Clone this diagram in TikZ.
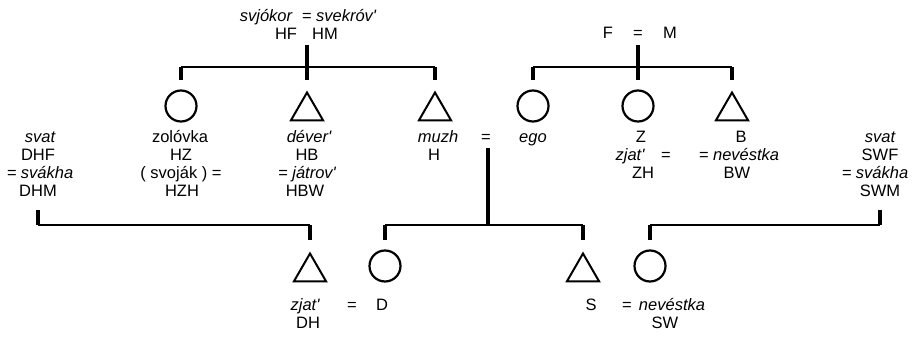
\documentclass[tikz,border=0pt]{standalone}
\usepackage{fontspec}
\setmainfont{Liberation Sans}
\usetikzlibrary{shapes.geometric}
\tikzset{
  lbl/.style={inner sep=0pt, outer sep=0pt, anchor=base, font=\fontsize{16.5}{18}\selectfont},
  ilbl/.style={lbl, font=\fontsize{16.5}{18}\selectfont\itshape},
  circ/.style={circle, draw, line width=2.2pt, minimum size=31pt, inner sep=0pt},
  tri/.style={regular polygon, regular polygon sides=3, draw, line width=2pt, minimum size=37pt, inner sep=0pt},
  kin/.style={line width=1.6pt},
  tick/.style={line width=3.2pt},
}
\newcommand{\q}{\textquotesingle}
\begin{document}
\begin{tikzpicture}[x=1pt, y=-1pt]
\path[use as bounding box, fill=white] (0,0) rectangle (915,337);

% ---- shapes
\node[circ] (zol) at (181,106) {};
\node[tri]  (dev) at (307,111) {};
\node[tri]  (muzh) at (435,111) {};
\node[circ] (ego) at (533,106) {};
\node[circ] (z) at (638,106) {};
\node[tri]  (b) at (732,111) {};
\node[tri]  (dh) at (310,272) {};
\node[circ] (d) at (385,266) {};
\node[tri]  (s) at (583,272) {};
\node[circ] (sw) at (650,266) {};

% ---- family connectors (upper left)
\coordinate (hfm) at (307,45);
\coordinate (hfmL) at (181,67);
\coordinate (hfmR) at (435,67);
\draw[kin] (hfmL) -- (hfmR);
\draw[tick] (hfm) -- (307,80);
\draw[tick] (hfmL) -- (181,80);
\draw[tick] (hfmR) -- (435,80);

% upper right
\coordinate (fm) at (638,45);
\coordinate (fmL) at (533,67);
\coordinate (fmR) at (732,67);
\draw[kin] (fmL) -- (fmR);
\draw[tick] (fm) -- (638,80);
\draw[tick] (fmL) -- (533,80);
\draw[tick] (fmR) -- (732,80);

% middle
\coordinate (hego) at (488,148);
\coordinate (chL) at (385,225);
\coordinate (chR) at (583,225);
\draw[kin] (chL) -- (chR);
\draw[tick] (hego) -- (488,225);
\draw[tick] (chL) -- (385,240);
\draw[tick] (chR) -- (583,240);

% left lower
\coordinate (llL) at (38,225);
\coordinate (llR) at (310,225);
\draw[kin] (llL) -- (llR);
\draw[tick] (38,210) -- (llL);
\draw[tick] (llR) -- (310,240);

% right lower
\coordinate (rlL) at (650,225);
\coordinate (rlR) at (880,225);
\draw[kin] (rlL) -- (rlR);
\draw[tick] (rlL) -- (650,240);
\draw[tick] (880,210) -- (rlR);

% ---- labels top
\node[ilbl] (t1) at (266,22) {svjókor};
\node[ilbl] (t2) at (339,22) {= svekróv\q};
\node[lbl] (hf) at (286,40) {HF};
\node[lbl] (hm) at (325,40) {HM};
\node[lbl] (f) at (608,38) {F};
\node[lbl] (fmeq) at (638,38) {=};
\node[lbl] (mm) at (670,38) {M};

% row 1
\node[ilbl] (a1) at (40,142) {svat};
\node[lbl]  (a2) at (180,142) {zolóvka};
\node[ilbl] (a3) at (309,142) {déver\q};
\node[ilbl] (a4) at (438,142) {muzh};
\node[lbl]  (a5) at (486,142) {=};
\node[ilbl] (a6) at (533,142) {ego};
\node[lbl]  (a7) at (641,142) {Z};
\node[lbl]  (a8) at (741,142) {B};
\node[ilbl] (a9) at (880,142) {svat};

% row 2
\node[lbl]  (b1) at (38,160) {DHF};
\node[lbl]  (b2) at (181,160) {HZ};
\node[lbl]  (b3) at (307,160) {HB};
\node[lbl]  (b4) at (434,160) {H};
\node[ilbl] (b5) at (630,160) {zjat\q};
\node[lbl]  (b6) at (666,160) {=};
\node[ilbl] (b7) at (739,160) {= nevéstka};
\node[lbl]  (b8) at (880,160) {SWF};

% row 3
\node[ilbl] (c1) at (40,178) {= svákha};
\node[lbl]  (c2) at (181,178) {( svoják ) =};
\node[ilbl] (c3) at (307,178) {= játrov\q};
\node[lbl]  (c4) at (643,178) {ZH};
\node[lbl]  (c5) at (737,178) {BW};
\node[ilbl] (c6) at (875,178) {= svákha};

% row 4
\node[lbl] (d1) at (38,196) {DHM};
\node[lbl] (d2) at (182,196) {HZH};
\node[lbl] (d3) at (305,196) {HBW};
\node[lbl] (d4) at (880,196) {SWM};

% bottom
\node[ilbl] (e1) at (305,310) {zjat\q};
\node[lbl]  (e2) at (352,310) {=};
\node[lbl]  (e3) at (382,310) {D};
\node[lbl]  (e4) at (591,310) {S};
\node[lbl]  (e5) at (627,310) {=};
\node[ilbl] (e6) at (672,310) {nevéstka};
\node[lbl]  (f1) at (308,328) {DH};
\node[lbl]  (f2) at (665,328) {SW};
\end{tikzpicture}
\end{document}
